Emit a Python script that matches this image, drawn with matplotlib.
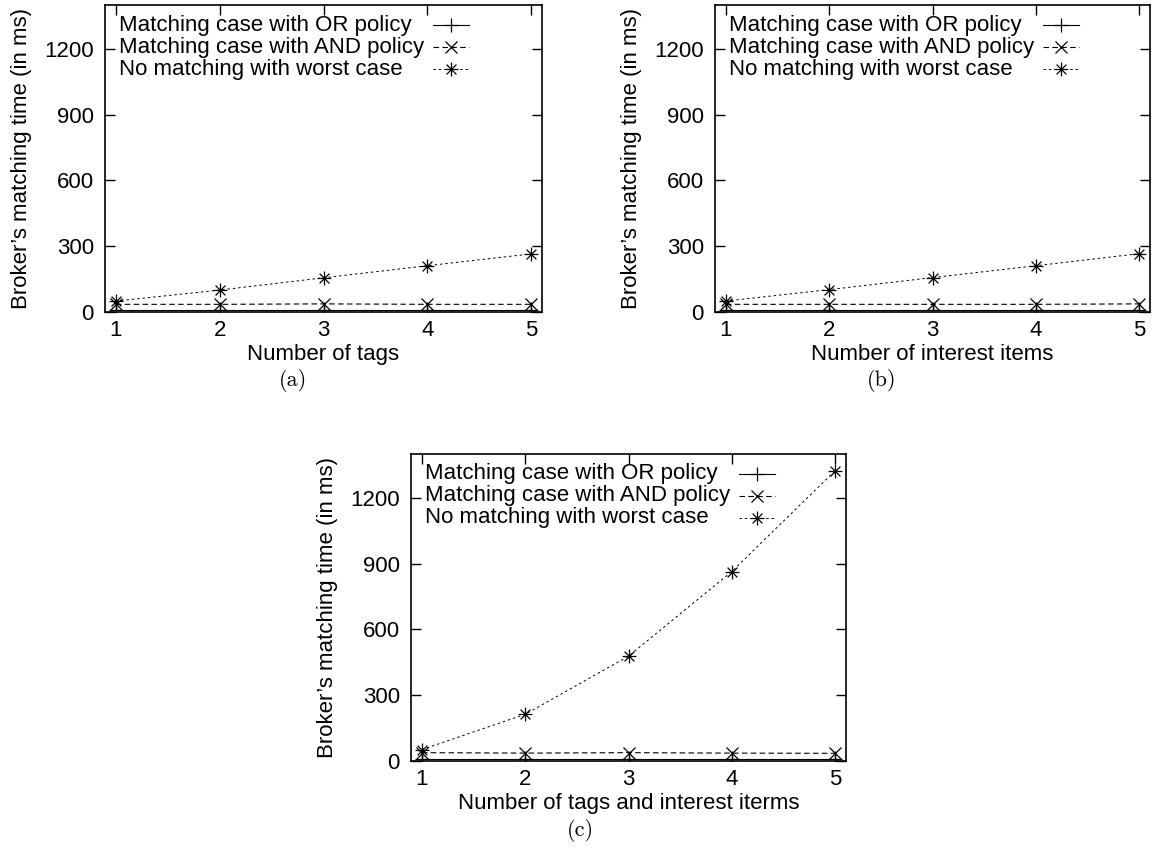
import matplotlib
matplotlib.use("Agg")
import matplotlib.pyplot as plt
from matplotlib.path import Path

plt.rcParams['font.family'] = ['Liberation Sans', 'DejaVu Sans']

x = [1, 2, 3, 4, 5]
xticks = [1, 2, 3, 4, 5]
yticks = [0, 300, 600, 900, 1200]

or_a = [10, 10, 10, 10, 10]
and_a = [35, 35, 37, 35, 35]
worst_a = [50, 100, 156, 211, 265]

or_b = [10, 10, 10, 10, 10]
and_b = [35, 35, 35, 35, 37]
worst_b = [50, 102, 157, 211, 266]

or_c = [10, 10, 10, 10, 10]
and_c = [38, 36, 38, 36, 35]
worst_c = [52, 213, 478, 864, 1324]

labels = ["Matching case with OR policy",
          "Matching case with AND policy",
          "No matching with worst case"]
xlabels = ["Number of tags", "Number of interest items",
           "Number of tags and interest iterms"]
ylabel = "Broker\u2019s matching time (in ms)"
captions = ["(a)", "(b)", "(c)"]

# gnuplot-style asterisk (+ and x superposed)
d = 0.7071
ast = Path([(-1, 0), (1, 0), (0, -1), (0, 1), (-d, -d), (d, d), (-d, d), (d, -d)],
           [Path.MOVETO, Path.LINETO] * 4)

styles = [dict(color='black', lw=0.8, ls='-', marker='+', ms=10, mew=0.9),
          dict(color='black', lw=0.8, ls=(0, (5, 3)), marker='x', ms=8, mew=0.9),
          dict(color='black', lw=0.7, ls=(0, (2.5, 3)), marker=ast, ms=10, mew=0.9,
               mfc='none', mec='black')]

W, H = 1152, 865
fig = plt.figure(figsize=(W / 100, H / 100), dpi=100)

boxes = [(105, 5, 542, 312), (715, 5, 1150, 312), (411, 454, 846, 761)]
caption_pos = [(293, 380), (882, 380), (580, 830)]
data = [(or_a, and_a, worst_a), (or_b, and_b, worst_b), (or_c, and_c, worst_c)]

FS = 16
for i, (l, t, r, b) in enumerate(boxes):
    aw, ah = r - l, b - t
    ax = fig.add_axes([l / W, 1 - b / H, aw / W, ah / H])
    for series, st in zip(data[i], styles):
        ax.plot(x, series, **st)
    ax.set_xlim(0.895, 5.105)
    ax.set_ylim(0, 1400)
    ax.set_xticks(xticks)
    ax.set_yticks(yticks)
    ax.tick_params(direction='in', length=7, width=1.0, top=True, right=True,
                   labelsize=FS, pad=8)
    ax.tick_params(axis='x', pad=6)
    for s in ax.spines.values():
        s.set_linewidth(1.2)
    ax.set_xlabel(xlabels[i], fontsize=FS, labelpad=2)
    ax.set_ylabel(ylabel, fontsize=FS, labelpad=9)

    # gnuplot-style key: text left-aligned, samples on the right
    for k, (lab, st) in enumerate(zip(labels, styles)):
        yk = 1 - (20 + 22 * k) / ah
        ax.text(14 / aw, yk, lab, transform=ax.transAxes, fontsize=FS,
                ha='left', va='center')
        line_st = {kk: vv for kk, vv in st.items()
                   if kk not in ('marker', 'ms', 'mew', 'mfc', 'mec')}
        ax.plot([328 / aw, 364 / aw], [yk, yk], transform=ax.transAxes,
                clip_on=False, **line_st)
        mk_st = {kk: vv for kk, vv in st.items() if kk not in ('ls', 'lw')}
        ax.plot([346 / aw], [yk], transform=ax.transAxes, clip_on=False,
                ls='none', **mk_st)

    cx, cy = caption_pos[i]
    fig.text(cx / W, 1 - cy / H, captions[i], fontsize=FS, family='cmr10',
             ha='center', va='center')

fig.savefig("out.png", dpi=100)
